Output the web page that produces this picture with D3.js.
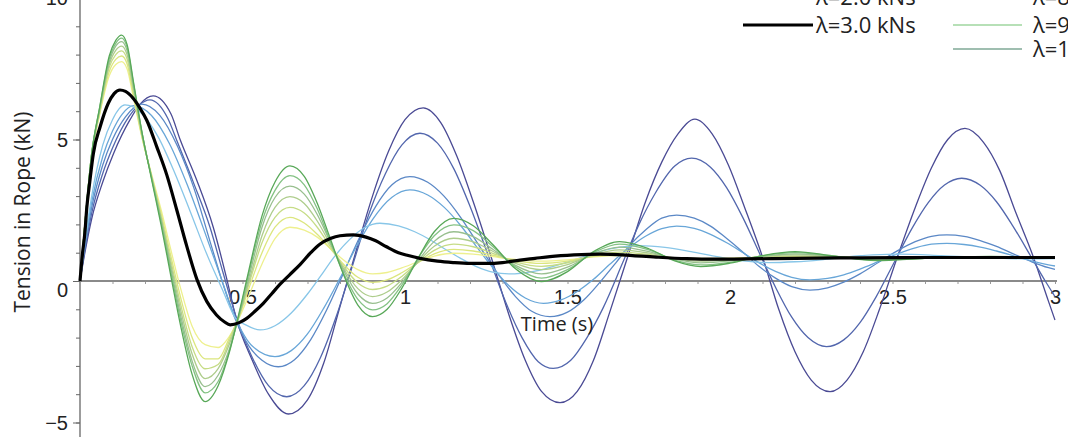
<!DOCTYPE html>
<html>
<head>
<meta charset="utf-8">
<script src="https://cdn.jsdelivr.net/npm/d3@7"></script>
<style>
  body { margin: 0; background: #fff; }
  svg { display: block; font-family: "Open Sans", sans-serif; }
</style>
</head>
<body>
<div id="chart"></div>
<script>
// time grid shared by the high-damping curves (s)
const tGreen = [0, 0.015, 0.036, 0.06, 0.09, 0.11, 0.128, 0.145, 0.165, 0.19, 0.22, 0.25, 0.28, 0.31, 0.345, 0.385, 0.425, 0.46, 0.49, 0.52, 0.56, 0.60, 0.646, 0.69, 0.73, 0.77, 0.81, 0.855, 0.90, 0.945, 0.99, 1.04, 1.09, 1.15, 1.21, 1.27, 1.34, 1.42, 1.50, 1.58, 1.66, 1.75, 1.83, 1.91, 2.0, 2.1, 2.2, 2.32, 2.45, 2.6, 2.8, 3.0];

// tension (kN) on tGreen
const lam4 = [0, 2.0, 4.4, 5.85, 7.25, 7.65, 7.75, 7.49, 6.44, 5.1, 3.78, 2.5, 1.08, -0.28, -1.6, -2.25, -2.35, -1.95, -1.3, -0.5, 0.6, 1.5, 1.9, 1.8, 1.55, 1.15, 0.75, 0.4, 0.25, 0.3, 0.46, 0.68, 0.88, 0.98, 0.95, 0.86, 0.76, 0.7, 0.75, 0.85, 0.9, 0.87, 0.82, 0.8, 0.81, 0.84, 0.85, 0.84, 0.82, 0.83, 0.83, 0.83];
const lam5 = [0, 2.0, 4.45, 5.9, 7.4, 7.83, 7.95, 7.67, 6.55, 5.13, 3.73, 2.36, 0.86, -0.6, -2.0, -2.75, -2.75, -2.0, -1.25, -0.25, 1.0, 1.9, 2.25, 2.05, 1.65, 1.15, 0.6, 0.13, -0.05, 0.04, 0.29, 0.645, 0.96, 1.12, 1.06, 0.91, 0.72, 0.62, 0.7, 0.87, 0.95, 0.9, 0.82, 0.78, 0.79, 0.84, 0.86, 0.85, 0.81, 0.82, 0.84, 0.83];
const lam6 = [0, 2.0, 4.5, 5.95, 7.55, 8.0, 8.13, 7.84, 6.66, 5.17, 3.7, 2.26, 0.69, -0.84, -2.32, -3.1, -2.95, -2.1, -1.2, -0.1, 1.35, 2.25, 2.6, 2.4, 1.9, 1.22, 0.53, -0.07, -0.3, -0.18, 0.16, 0.65, 1.08, 1.3, 1.21, 0.98, 0.68, 0.52, 0.645, 0.895, 1.02, 0.94, 0.81, 0.75, 0.76, 0.85, 0.89, 0.86, 0.8, 0.82, 0.84, 0.83];
const lam7 = [0, 2.0, 4.5, 6.0, 7.65, 8.15, 8.3, 7.99, 6.77, 5.22, 3.68, 2.19, 0.55, -1.04, -2.58, -3.45, -3.1, -2.22, -1.2, 0.0, 1.6, 2.6, 2.98, 2.74, 2.12, 1.3, 0.46, -0.27, -0.55, -0.39, 0.04, 0.67, 1.23, 1.51, 1.38, 1.05, 0.62, 0.4, 0.58, 0.93, 1.1, 0.985, 0.79, 0.7, 0.75, 0.86, 0.92, 0.87, 0.78, 0.81, 0.85, 0.83];
const lam8 = [0, 2.0, 4.5, 6.05, 7.75, 8.3, 8.46, 8.14, 6.88, 5.27, 3.67, 2.12, 0.41, -1.23, -2.83, -3.73, -3.33, -2.39, -1.2, 0.15, 1.9, 2.95, 3.35, 3.07, 2.35, 1.38, 0.4, -0.46, -0.79, -0.6, -0.06, 0.71, 1.4, 1.74, 1.57, 1.12, 0.55, 0.25, 0.49, 0.96, 1.2, 1.04, 0.77, 0.64, 0.71, 0.875, 0.96, 0.88, 0.76, 0.8, 0.85, 0.83];
const lam9 = [0, 2.0, 4.5, 6.1, 7.85, 8.4, 8.58, 8.25, 6.95, 5.29, 3.65, 2.05, 0.3, -1.4, -3.0, -3.95, -3.55, -2.45, -1.15, 0.3, 2.1, 3.2, 3.72, 3.4, 2.55, 1.4, 0.3, -0.65, -1.02, -0.8, -0.15, 0.8, 1.6, 1.98, 1.78, 1.22, 0.5, 0.1, 0.4, 1.0, 1.3, 1.1, 0.74, 0.57, 0.66, 0.89, 1.0, 0.88, 0.74, 0.8, 0.86, 0.83];
const lam10 = [0, 2.0, 4.5, 6.1, 7.95, 8.5, 8.69, 8.35, 7.0, 5.3, 3.6, 1.95, 0.15, -1.6, -3.3, -4.26, -3.7, -2.5, -1.1, 0.4, 2.3, 3.5, 4.07, 3.7, 2.75, 1.5, 0.25, -0.85, -1.26, -1.0, -0.26, 0.8, 1.74, 2.21, 1.95, 1.29, 0.43, -0.02, 0.33, 1.04, 1.39, 1.14, 0.71, 0.51, 0.63, 0.9, 1.04, 0.88, 0.72, 0.8, 0.87, 0.83];

// low-damping curves as [time, tension]
const lam0 = [[0,0],[0.015,1.0],[0.036,2.2],[0.07,3.5],[0.103,4.5],[0.154,5.7],[0.185,6.25],[0.225,6.54],[0.28,5.9],[0.308,5.0],[0.359,3.57],[0.41,1.9],[0.451,0.1],[0.48,-1.3],[0.53,-2.8],[0.58,-4.0],[0.641,-4.7],[0.70,-4.2],[0.75,-2.9],[0.80,-0.9],[0.848,1.0],[0.90,3.0],[0.95,4.6],[1.0,5.7],[1.056,6.12],[1.11,5.6],[1.16,4.4],[1.21,2.8],[1.265,0.85],[1.32,-1.2],[1.37,-2.8],[1.42,-3.9],[1.477,-4.3],[1.53,-3.9],[1.58,-2.8],[1.63,-1.1],[1.685,0.85],[1.74,2.8],[1.79,4.2],[1.84,5.2],[1.892,5.72],[1.945,5.2],[1.995,4.1],[2.045,2.6],[2.10,0.85],[2.15,-1.0],[2.20,-2.5],[2.25,-3.5],[2.308,-3.91],[2.36,-3.5],[2.41,-2.5],[2.46,-1.0],[2.515,0.85],[2.57,2.6],[2.62,4.0],[2.67,5.0],[2.723,5.39],[2.78,4.9],[2.83,3.9],[2.88,2.4],[2.933,0.86],[2.98,-0.72],[3.0,-1.38]];
const lam05 = [[0,0],[0.015,1.1],[0.036,2.4],[0.07,3.8],[0.1,4.7],[0.15,5.8],[0.18,6.2],[0.215,6.4],[0.27,5.75],[0.30,4.9],[0.35,3.45],[0.40,1.9],[0.44,0.3],[0.48,-1.25],[0.53,-2.7],[0.58,-3.7],[0.636,-4.09],[0.69,-3.7],[0.74,-2.7],[0.79,-1.2],[0.84,0.6],[0.89,2.4],[0.94,3.8],[0.99,4.8],[1.046,5.22],[1.10,4.87],[1.15,3.97],[1.20,2.64],[1.255,0.94],[1.31,-0.75],[1.36,-2.0],[1.41,-2.85],[1.456,-3.09],[1.51,-2.8],[1.56,-2.0],[1.61,-0.94],[1.67,0.65],[1.72,2.0],[1.77,3.1],[1.83,4.06],[1.882,4.34],[1.94,4.02],[1.99,3.29],[2.04,2.23],[2.09,1.0],[2.14,-0.22],[2.19,-1.28],[2.24,-2.0],[2.297,-2.32],[2.35,-2.08],[2.40,-1.47],[2.45,-0.55],[2.505,0.655],[2.56,1.86],[2.61,2.77],[2.66,3.39],[2.713,3.63],[2.77,3.38],[2.82,2.8],[2.87,1.95],[2.925,0.885],[2.97,0.0],[3.0,-0.55]];
const lam1 = [[0,0],[0.015,1.2],[0.036,2.6],[0.07,4.1],[0.1,5.0],[0.14,5.8],[0.19,6.25],[0.245,5.86],[0.30,4.76],[0.35,3.3],[0.40,1.4],[0.44,-0.1],[0.478,-1.35],[0.52,-2.3],[0.56,-2.8],[0.61,-3.03],[0.66,-2.78],[0.71,-2.07],[0.76,-1.0],[0.81,0.26],[0.86,1.54],[0.91,2.64],[0.96,3.4],[1.015,3.69],[1.07,3.49],[1.12,3.0],[1.17,2.27],[1.23,1.215],[1.29,0.19],[1.34,-0.55],[1.39,-1.07],[1.446,-1.26],[1.50,-1.1],[1.55,-0.67],[1.60,-0.04],[1.65,0.66],[1.69,1.24],[1.74,1.8],[1.79,2.22],[1.836,2.33],[1.89,2.22],[1.94,1.94],[1.99,1.5],[2.04,1.02],[2.09,0.51],[2.14,0.1],[2.19,-0.2],[2.246,-0.32],[2.30,-0.24],[2.35,-0.04],[2.40,0.25],[2.46,0.68],[2.52,1.1],[2.57,1.39],[2.62,1.58],[2.667,1.63],[2.72,1.58],[2.77,1.43],[2.82,1.22],[2.87,0.97],[2.93,0.67],[2.98,0.47],[3.0,0.41]];
const lam15 = [[0,0],[0.015,1.3],[0.036,2.8],[0.07,4.4],[0.1,5.3],[0.13,5.9],[0.165,6.2],[0.22,5.85],[0.275,4.86],[0.33,3.4],[0.38,1.85],[0.43,0.24],[0.478,-1.3],[0.53,-2.3],[0.60,-2.67],[0.65,-2.46],[0.70,-1.87],[0.75,-0.96],[0.80,0.1],[0.85,1.2],[0.90,2.17],[0.96,2.96],[1.015,3.22],[1.07,3.04],[1.12,2.61],[1.17,1.98],[1.22,1.215],[1.27,0.47],[1.32,-0.17],[1.37,-0.6],[1.426,-0.79],[1.48,-0.67],[1.53,-0.37],[1.58,0.06],[1.63,0.59],[1.69,1.18],[1.74,1.58],[1.79,1.85],[1.836,1.94],[1.89,1.86],[1.94,1.65],[1.99,1.35],[2.04,1.0],[2.09,0.64],[2.14,0.34],[2.19,0.13],[2.246,0.04],[2.30,0.09],[2.35,0.22],[2.40,0.42],[2.46,0.7],[2.52,0.98],[2.57,1.17],[2.62,1.3],[2.667,1.33],[2.72,1.29],[2.77,1.2],[2.82,1.06],[2.87,0.9],[2.93,0.7],[2.98,0.57],[3.0,0.53]];
const lam2 = [[0,0],[0.015,1.4],[0.036,3.0],[0.07,4.8],[0.1,5.7],[0.138,6.22],[0.19,5.92],[0.24,5.1],[0.29,3.86],[0.34,2.43],[0.39,0.95],[0.44,-0.35],[0.478,-1.3],[0.51,-1.55],[0.554,-1.73],[0.60,-1.58],[0.65,-1.13],[0.70,-0.46],[0.74,0.17],[0.78,0.82],[0.83,1.47],[0.875,1.88],[0.923,2.04],[0.98,1.95],[1.03,1.74],[1.08,1.44],[1.12,1.15],[1.17,0.81],[1.22,0.51],[1.27,0.31],[1.32,0.25],[1.40,0.35],[1.48,0.6],[1.56,0.9],[1.64,1.15],[1.72,1.25],[1.80,1.19],[1.88,1.04],[1.96,0.86],[2.04,0.71],[2.12,0.65],[2.20,0.68],[2.28,0.75],[2.36,0.85],[2.44,0.92],[2.52,0.95],[2.65,0.9],[2.8,0.82],[2.92,0.78],[3.0,0.79]];
const lam3 = [[0,0],[0.008,1.0],[0.015,1.7],[0.021,2.6],[0.03,3.5],[0.041,4.5],[0.062,5.45],[0.087,6.28],[0.105,6.62],[0.123,6.75],[0.14,6.7],[0.164,6.45],[0.185,6.1],[0.205,5.69],[0.236,4.75],[0.267,3.75],[0.298,2.5],[0.328,1.25],[0.36,0.05],[0.39,-0.72],[0.42,-1.2],[0.445,-1.45],[0.462,-1.55],[0.49,-1.47],[0.513,-1.32],[0.54,-1.05],[0.564,-0.79],[0.59,-0.45],[0.615,-0.12],[0.645,0.22],[0.677,0.58],[0.71,1.0],[0.738,1.3],[0.77,1.5],[0.80,1.6],[0.841,1.63],[0.88,1.55],[0.91,1.42],[0.943,1.21],[0.98,1.0],[1.01,0.9],[1.046,0.8],[1.1,0.7],[1.148,0.65],[1.2,0.62],[1.251,0.62],[1.3,0.65],[1.354,0.74],[1.4,0.8],[1.446,0.86],[1.52,0.92],[1.6,0.95],[1.7,0.9],[1.78,0.84],[1.867,0.79],[1.95,0.77],[2.05,0.78],[2.2,0.8],[2.4,0.82],[2.6,0.83],[2.8,0.83],[3.0,0.83]];

const xTicks = [0.5, 1, 1.5, 2, 2.5, 3];
const yTicks = [-5, 0, 5, 10];

const width = 1068, height = 437;
const svg = d3.select('#chart').append('svg')
  .attr('width', width)
  .attr('height', height);

const x = d3.scaleLinear().domain([0, 3]).range([80, 1055]);
const y = d3.scaleLinear().domain([-5, 10]).range([422.5, -2]);

const onGrid = vals => tGreen.map((t, i) => [t, vals[i]]);

const series = [
  { label: 'λ=0 kNs', color: '#4a4a94', w: 1.3, pts: lam0 },
  { label: 'λ=0.5 kNs', color: '#5266ad', w: 1.3, pts: lam05 },
  { label: 'λ=1.0 kNs', color: '#5b88c6', w: 1.3, pts: lam1 },
  { label: 'λ=1.5 kNs', color: '#68a6d8', w: 1.3, pts: lam15 },
  { label: 'λ=2.0 kNs', color: '#88c6e8', w: 1.3, pts: lam2 },
  { label: 'λ=4.0 kNs', color: '#eef08e', w: 1.3, pts: onGrid(lam4) },
  { label: 'λ=5.0 kNs', color: '#dce67e', w: 1.3, pts: onGrid(lam5) },
  { label: 'λ=6.0 kNs', color: '#c6dc86', w: 1.3, pts: onGrid(lam6) },
  { label: 'λ=7.0 kNs', color: '#aecd8c', w: 1.3, pts: onGrid(lam7) },
  { label: 'λ=8.0 kNs', color: '#98bf8e', w: 1.3, pts: onGrid(lam8) },
  { label: 'λ=9.0 kNs', color: '#84c284', w: 1.3, pts: onGrid(lam9) },
  { label: 'λ=10 kNs', color: '#58a858', w: 1.3, pts: onGrid(lam10) },
  { label: 'λ=3.0 kNs', color: '#000000', w: 3.2, pts: lam3 }
];

// axes
const yAxisMinor = svg.append('g')
  .attr('transform', `translate(${x(0)},0)`)
  .call(d3.axisLeft(y).tickValues(d3.range(-5, 11, 1)).tickSize(4).tickFormat(''));
yAxisMinor.select('.domain').remove();
const yAxis = svg.append('g')
  .attr('transform', `translate(${x(0)},0)`)
  .call(d3.axisLeft(y).tickValues(yTicks).tickSize(7).tickPadding(5).tickFormat(d => d < 0 ? '−' + Math.abs(d) : d));
yAxis.select('.domain').remove();
yAxis.selectAll('text')
  .attr('font-size', 20)
  .attr('fill', '#222')
  .attr('dy', d => d === 0 ? '0.75em' : '0.34em');
svg.selectAll('.tick line').attr('stroke', '#666');

svg.append('line')
  .attr('x1', x(0)).attr('x2', x(0))
  .attr('y1', 0).attr('y2', height)
  .attr('stroke', '#666').attr('stroke-width', 1.3);

const xAxisMinor = svg.append('g')
  .attr('transform', `translate(0,${y(0)})`)
  .call(d3.axisBottom(x).tickValues(d3.range(1, 31).map(i => i / 10)).tickSize(3).tickFormat(''));
xAxisMinor.select('.domain').remove();
xAxisMinor.selectAll('line').attr('stroke', '#999');
const xAxis = svg.append('g')
  .attr('transform', `translate(0,${y(0)})`)
  .call(d3.axisBottom(x).tickValues(xTicks).tickSize(0).tickPadding(9).tickFormat(d3.format('')));
xAxis.select('.domain').remove();
xAxis.selectAll('text').attr('font-size', 20).attr('fill', '#222');

svg.append('line')
  .attr('x1', x(0)).attr('x2', x(3) + 2)
  .attr('y1', y(0)).attr('y2', y(0))
  .attr('stroke', '#8a8a8a').attr('stroke-width', 2);

// curves
const line = d3.line()
  .x(d => x(d[0]))
  .y(d => y(d[1]))
  .curve(d3.curveMonotoneX);

svg.append('g').selectAll('path')
  .data(series)
  .enter().append('path')
  .attr('d', d => line(d.pts))
  .attr('fill', 'none')
  .attr('stroke', d => d.color)
  .attr('stroke-width', d => d.w)
  .attr('stroke-linejoin', 'round');

// axis titles
svg.append('text')
  .attr('x', 557).attr('y', 331)
  .attr('text-anchor', 'middle')
  .attr('font-size', 20).attr('fill', '#222')
  .text('Time (s)');

svg.append('text')
  .attr('transform', 'translate(30,212) rotate(-90)')
  .attr('text-anchor', 'middle')
  .attr('font-size', 21).attr('fill', '#222')
  .text('Tension in Rope (kN)');

// legend (partly outside the frame, as in the original)
const legendRows = [
  { label: 'λ=2.0 kNs', color: '#88c6e8', w: 1.3, col: 0, row: 0 },
  { label: 'λ=3.0 kNs', color: '#000000', w: 3.2, col: 0, row: 1 },
  { label: 'λ=8.0 kNs', color: '#98bf8e', w: 1.3, col: 1, row: 0 },
  { label: 'λ=9.0 kNs', color: '#9fd69f', w: 1.3, col: 1, row: 1 },
  { label: 'λ=10 kNs', color: '#7fa896', w: 1.3, col: 1, row: 2 }
];
const colX = [[743, 813, 816], [953, 1022, 1033]];
const rowY = [-3, 25, 49];
const lg = svg.append('g');
lg.selectAll('line')
  .data(legendRows)
  .enter().append('line')
  .attr('x1', d => colX[d.col][0]).attr('x2', d => colX[d.col][1])
  .attr('y1', d => rowY[d.row]).attr('y2', d => rowY[d.row])
  .attr('stroke', d => d.color).attr('stroke-width', d => d.w);
lg.selectAll('text')
  .data(legendRows)
  .enter().append('text')
  .attr('x', d => colX[d.col][2]).attr('y', d => rowY[d.row])
  .attr('dy', '0.36em')
  .attr('font-size', 22).attr('fill', '#222')
  .text(d => d.label);
</script>
</body>
</html>
